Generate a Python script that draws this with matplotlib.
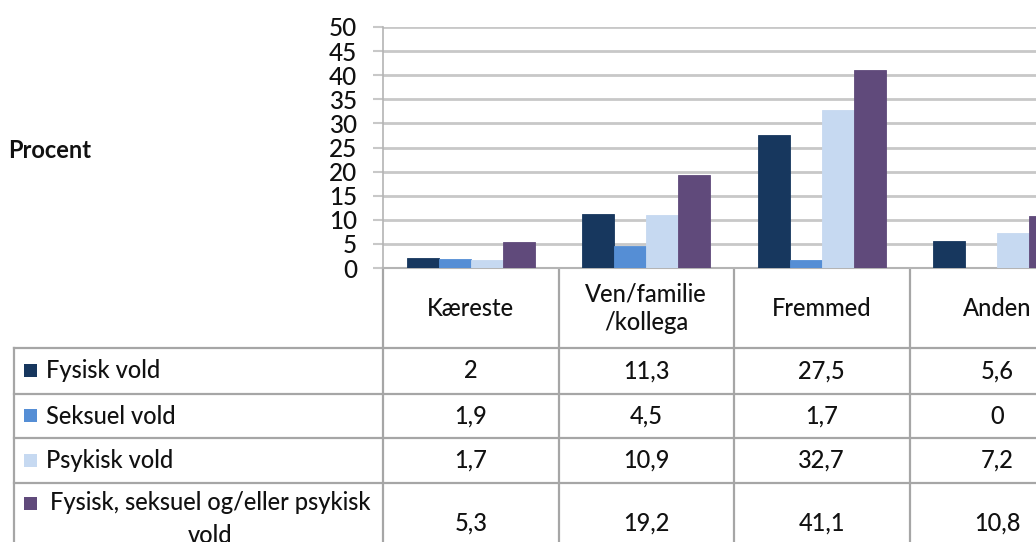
import matplotlib
matplotlib.use("Agg")
import matplotlib.pyplot as plt
import matplotlib.transforms as mtransforms
from matplotlib.patches import Rectangle

plt.rcParams['font.family'] = ['Lato', 'DejaVu Sans']

kategorier = ["Kæreste", "Ven/familie\n/kollega", "Fremmed", "Anden"]
serier = ["Fysisk vold", "Seksuel vold", "Psykisk vold",
          "Fysisk, seksuel og/eller psykisk\nvold"]
fysisk = [2, 11.3, 27.5, 5.6]
seksuel = [1.9, 4.5, 1.7, 0]
psykisk = [1.7, 10.9, 32.7, 7.2]
samlet = [5.3, 19.2, 41.1, 10.8]
yticks = [0, 5, 10, 15, 20, 25, 30, 35, 40, 45, 50]

farver = ["#17375E", "#558ED5", "#C6D9F1", "#604A7B"]
vaerdier = [fysisk, seksuel, psykisk, samlet]

W, H = 1036, 542
fig = plt.figure(figsize=(W / 100, H / 100), dpi=100)

# bar axes, the last category runs past the right edge like in the screenshot
ax_left, ax_right, ax_top, ax_bot = 383, 383 + 4 * 175.5, 27, 268
ax = fig.add_axes([ax_left / W, (H - ax_bot) / H,
                   (ax_right - ax_left) / W, (ax_bot - ax_top) / H])

gray = "#b4b4b4"
txtc = "#111111"
fs = 17
bw = 0.182
for j, vals in enumerate(vaerdier):
    xs = [i + 0.5 + (j - 1.5) * bw for i in range(len(kategorier))]
    ax.bar(xs, vals, width=bw, color=farver[j], edgecolor=farver[j],
           linewidth=0.6, zorder=3)

ax.set_xlim(0, len(kategorier))
ax.set_ylim(0, 50)
ax.set_yticks(yticks)
ax.set_yticklabels([str(t) for t in yticks], fontsize=17.5, fontweight="medium")
ax.set_xticks([])
ax.yaxis.grid(True, color="#c8c8c8", linewidth=2)
ax.set_axisbelow(True)
for s in ["top", "right"]:
    ax.spines[s].set_visible(False)
ax.spines["left"].set_color(gray)
ax.spines["bottom"].set_color(gray)
ax.spines["left"].set_linewidth(1.2)
ax.spines["bottom"].set_linewidth(1.5)
ax.tick_params(axis="y", direction="out", length=7.5, width=1.5, color="#c8c8c8",
               pad=11, labelcolor=txtc)

# overlay in pixel coordinates for the data table
ov = fig.add_axes([0, 0, 1, 1], zorder=-1)
ov.set_xlim(0, W)
ov.set_ylim(H, 0)
ov.axis("off")
blend = mtransforms.blended_transform_factory(ax.transData, ov.transData)

rows = [348, 394, 438, 483, 570]
tab_left = 14
lc = "#a6a6a6"
lw = 1.6

# vertical column lines
for i in range(len(kategorier) + 1):
    ov.plot([i, i], [ax_bot, H + 5], color=lc, lw=lw, transform=blend, clip_on=False)
ov.plot([tab_left, tab_left], [rows[0], H + 5], color=lc, lw=lw)
# horizontal lines
for y in rows[:-1]:
    ov.plot([tab_left, W + 5], [y, y], color=lc, lw=lw)

# header
for i, k in enumerate(kategorier):
    ov.text(i + 0.5, 308, k, transform=blend, ha="center", va="center",
            fontsize=fs, fontweight="medium", color=txtc, linespacing=1.3)

# series rows
for j, navn in enumerate(serier):
    yc = (rows[j] + rows[j + 1]) / 2
    ov.add_patch(Rectangle((24, yc - 7 if j < 3 else 497), 13, 13,
                           facecolor=farver[j], edgecolor="none"))
    if "\n" in navn:
        ov.text(210, 519, navn, ha="center", va="center", fontsize=fs,
                fontweight="medium", color=txtc, linespacing=1.5)
        yc = 523
    else:
        ov.text(46, yc, navn, ha="left", va="center", fontsize=fs,
                fontweight="medium", color=txtc)
    for i, v in enumerate(vaerdier[j]):
        txt = f"{v:g}".replace(".", ",")
        ov.text(i + 0.5, yc, txt, transform=blend, ha="center", va="center",
                fontsize=fs, fontweight="medium", color=txtc)

ov.text(8, 150, "Procent", ha="left", va="center", fontsize=17,
        fontweight="bold", color=txtc)

fig.savefig("out.png", dpi=100)
